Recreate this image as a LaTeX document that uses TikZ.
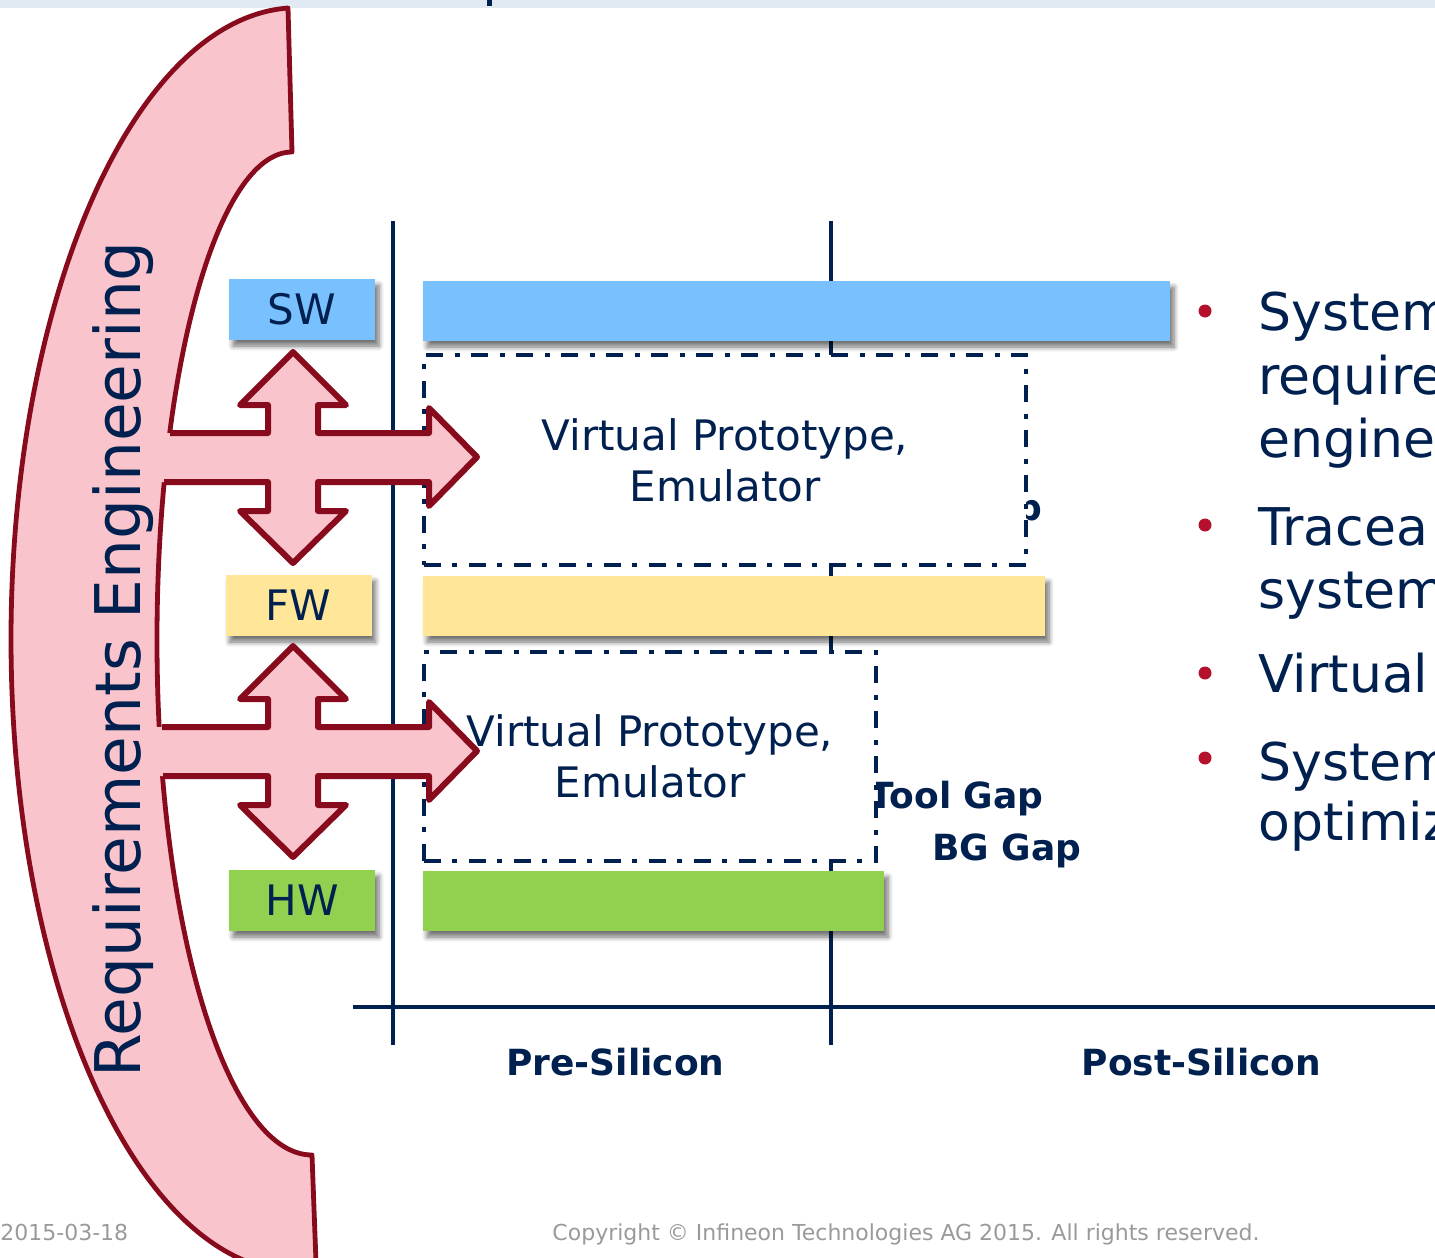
\documentclass[tikz,border=0pt]{standalone}
\usepackage{fontspec}
\setmainfont{DejaVu Sans}
\usetikzlibrary{positioning}
\usetikzlibrary{shadows.blur}

\definecolor{ifxnavy}{HTML}{00204F}
\definecolor{reqred}{HTML}{870A1D}
\definecolor{reqpink}{HTML}{F9C4CC}
\definecolor{swblue}{HTML}{79C1FE}
\definecolor{fwyellow}{HTML}{FFE699}
\definecolor{hwgreen}{HTML}{92D050}
\definecolor{topband}{HTML}{E1EAF2}
\definecolor{bulletred}{HTML}{B5102C}
\definecolor{footgray}{HTML}{9A9A9A}

\tikzset{
  shd/.style={blur shadow={shadow xshift=2pt, shadow yshift=-3pt, shadow blur radius=2.5pt, shadow blur steps=6, shadow opacity=55}},
  lbl/.style={shd, minimum width=73pt, minimum height=30.5pt, inner sep=0pt, text=ifxnavy, font=\fontsize{21}{25}\selectfont},
  gbar/.style={shd, minimum height=30pt, inner sep=0pt},
  vpbox/.style={draw=ifxnavy, fill=white, line width=2.2pt, dash pattern=on 8.5pt off 5.5pt on 2.5pt off 6pt, inner sep=0pt},
  vptext/.style={align=center, text=ifxnavy, font=\fontsize{21}{25.5}\selectfont},
  gaplbl/.style={inner sep=0pt, text=ifxnavy, font=\bfseries\fontsize{18}{22}\selectfont},
  axis/.style={ifxnavy, line width=1.6pt},
  bul/.style={inner sep=0pt, text=ifxnavy, font=\fontsize{26}{31}\selectfont},
  dot/.style={circle, fill=bulletred, inner sep=0pt, minimum size=6.5pt},
  foot/.style={inner sep=0pt, text=footgray, font=\fontsize{11}{13}\selectfont},
}

\begin{document}
\begin{tikzpicture}[x=0.5pt, y=-0.5pt]
\useasboundingbox (0,0) rectangle (1435,1258);
\clip (0,0) rectangle (1435,1258);

% top strip
\fill[topband] (0,0) rectangle (1435,8);
\fill[ifxnavy] (487,0) rectangle (492,6);

% axes
\draw[axis] (393,221) -- (393,1045);
\draw[axis] (831,221) -- (831,1045);
\draw[ifxnavy, line width=2pt] (353,1007) -- (1435,1007);

% gap labels, partly hidden by the boxes
\node[gaplbl, anchor=base east] (gapa) at (1043,520) {Gap};
\node[gaplbl, anchor=base east] (toolgap) at (1044,808) {Tool Gap};
\node[gaplbl, anchor=base east] (bggap) at (1082,860) {BG Gap};

% bars
\node[gbar, fill=swblue, minimum width=373.5pt] (swbar) at (796.5,311) {};
\node[gbar, fill=fwyellow, minimum width=311pt] (fwbar) at (734,606) {};
\node[gbar, fill=hwgreen, minimum width=230.5pt] (hwbar) at (653.5,901) {};

% layer labels
\node[lbl, fill=swblue] (sw) at (302,309.5) {SW};
\node[lbl, fill=fwyellow] (fw) at (298.5,605.5) {FW};
\node[lbl, fill=hwgreen] (hw) at (302,900.5) {HW};

% prototype boxes
\node[vpbox, minimum width=301pt, minimum height=105pt] (vp1) at (725,460) {};
\node[vpbox, minimum width=226pt, minimum height=104.5pt] (vp2) at (650,756.5) {};

% requirements band
\filldraw[fill=reqpink, draw=reqred, line width=2.4pt, line join=round]
  (288,8) arc[start angle=268, end angle=100, x radius=287, y radius=632]
  -- (316,1262) -- (312,1155)
  arc[start angle=90, end angle=180, x radius=155, y radius=515]
  arc[start angle=180, end angle=270, x radius=135, y radius=488] -- cycle;
\node[rotate=90, anchor=base, text=ifxnavy, font=\fontsize{31.5}{38}\selectfont] (reqeng) at (140,659) {Requirements Engineering};

% cross arrows
\foreach \cy/\lt/\lb in {457/-123/-129, 751/-131/-130} {
  \begin{scope}[shift={(293,\cy)}]
    \fill[reqpink] (\lt-15,-24) -- (-25,-24) -- (-25,-52) -- (-53,-52) -- (0,-105) -- (53,-52) -- (25,-52) -- (25,-24)
      -- (136,-24) -- (136,-49) -- (184,0) -- (136,49) -- (136,25) -- (25,25) -- (25,54) -- (53,54) -- (0,106)
      -- (-53,54) -- (-25,54) -- (-25,25) -- (\lb-15,25) -- cycle;
    \draw[reqred, line width=3pt, line join=round] (\lt,-24) -- (-25,-24) -- (-25,-52) -- (-53,-52) -- (0,-105) -- (53,-52) -- (25,-52) -- (25,-24)
      -- (136,-24) -- (136,-49) -- (184,0) -- (136,49) -- (136,25) -- (25,25) -- (25,54) -- (53,54) -- (0,106)
      -- (-53,54) -- (-25,54) -- (-25,25) -- (\lb,25);
  \end{scope}
}

% box texts
\node[vptext] (vp1txt) at (vp1.center) {Virtual Prototype,\\Emulator};
\node[vptext] (vp2txt) at (vp2.center) {Virtual Prototype,\\Emulator};

% phase labels
\node[gaplbl, anchor=base] (pre) at (615.5,1075) {Pre-Silicon};
\node[gaplbl, anchor=base] (post) at (1201.5,1075) {Post-Silicon};

% bullets
\foreach \by [count=\i] in {311,525,673,758}
  \node[dot] (dot\i) at (1205,\by) {};
\foreach \ty/\tx [count=\i] in {330/System, 394/require, 457/engine, 545/Tracea, 608/system, 692/Virtual, 780/System, 840/optimiz}
  \node[bul, anchor=base west] (line\i) at (1258,\ty) {\tx};

% footer
\node[foot, anchor=base west] (date) at (0,1240) {2015-03-18};
\node[foot, anchor=base] (copy) at (906,1240) {Copyright © Infineon Technologies AG 2015. All rights reserved.};
\end{tikzpicture}
\end{document}
